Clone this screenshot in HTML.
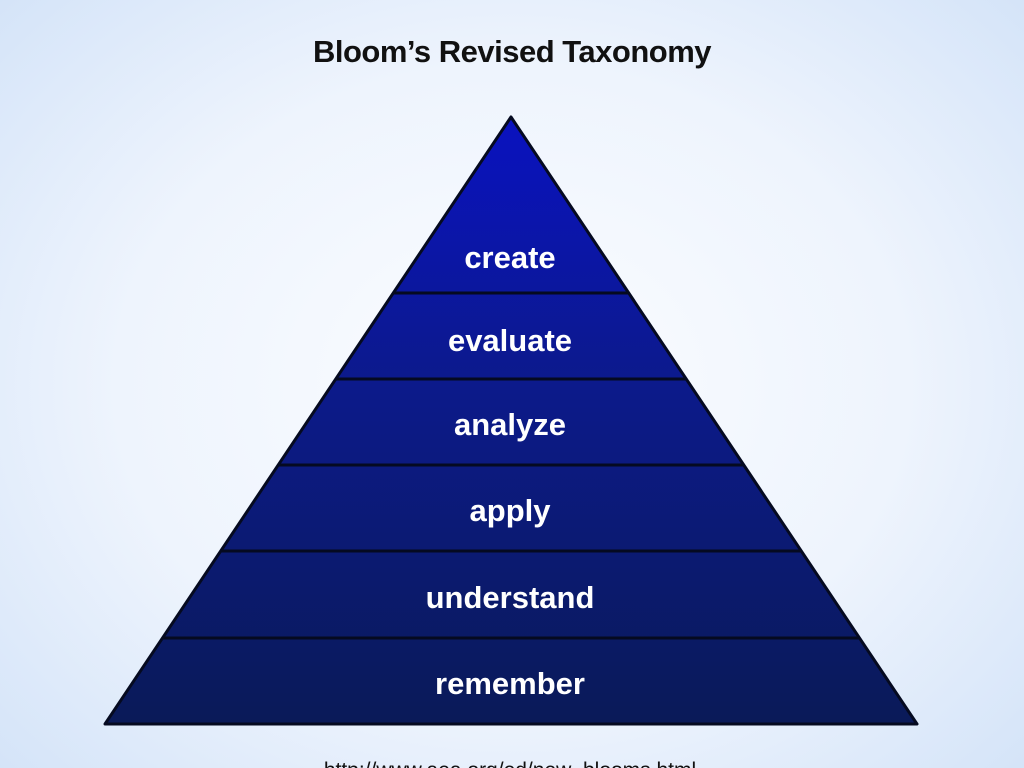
<!DOCTYPE html>
<html><head><meta charset="utf-8"><style>
html,body{margin:0;padding:0;}
body{width:1024px;height:768px;overflow:hidden;position:relative;
background:radial-gradient(ellipse 70% 75% at 50% 50%,#fbfdff 0%,#eef4fd 55%,#d3e3f8 100%);
font-family:"Liberation Sans",Arial,sans-serif;}
.t{position:absolute;left:0;width:1024px;text-align:center;}
</style></head><body>
<div class="t" style="top:34px;font-size:31px;font-weight:bold;color:#111;letter-spacing:-0.5px;">Bloom’s Revised Taxonomy</div>
<svg width="1024" height="768" style="position:absolute;left:0;top:0">
<defs><linearGradient id="g" x1="0" y1="117" x2="0" y2="724" gradientUnits="userSpaceOnUse">
<stop offset="0" stop-color="#0a12c0"/><stop offset="0.45" stop-color="#0c1a8a"/><stop offset="1" stop-color="#0a1a58"/></linearGradient></defs>
<polygon points="511,117 917,724 105,724" fill="url(#g)" stroke="#050a20" stroke-width="3" stroke-linejoin="round"/>
<g stroke="#050a20" stroke-width="3">
<line x1="393" y1="293" x2="629" y2="293"/>
<line x1="336" y1="379" x2="686" y2="379"/>
<line x1="278" y1="465" x2="744" y2="465"/>
<line x1="221" y1="551" x2="801" y2="551"/>
<line x1="163" y1="638" x2="859" y2="638"/>
</g>
<g fill="#fff" font-family="Liberation Sans, Arial, sans-serif" font-weight="bold" font-size="31" text-anchor="middle">
<text x="510" y="268">create</text>
<text x="510" y="351">evaluate</text>
<text x="510" y="435">analyze</text>
<text x="510" y="521">apply</text>
<text x="510" y="608">understand</text>
<text x="510" y="694">remember</text>
</g>
<text x="510" y="777" text-anchor="middle" font-family="Liberation Sans, Arial, sans-serif" font-size="21" fill="#111">http://www.aea.org/ed/new_blooms.html</text>
</svg>
</body></html>
